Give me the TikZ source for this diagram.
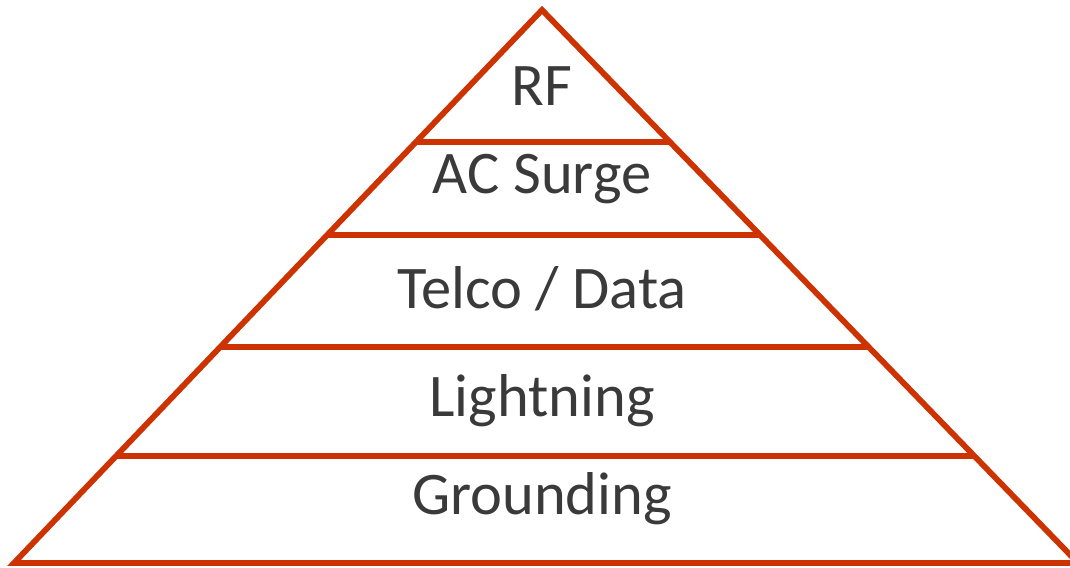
\documentclass[tikz,border=0pt]{standalone}
\usepackage{fontspec}
\setmainfont{Carlito}
\usepackage{tikz}
\usetikzlibrary{calc}
\definecolor{pyrred}{HTML}{CC3300}
\definecolor{pyrtext}{HTML}{3A3A3A}
\tikzset{tier/.style={text=pyrtext,font=\fontsize{17.2}{20}\selectfont}}
\begin{document}
\begin{tikzpicture}[x=0.01cm,y=-0.01cm]
\useasboundingbox (0,0) rectangle (1070,568);
\coordinate (apex) at (542,10);
\coordinate (baseL) at (14,563);
\coordinate (baseR) at (1078,563);
\node[tier] (RF) at (542,86) {RF};
\node[tier] (AC) at (542,179) {AC Surge};
\node[tier] (TD) at (542,289) {Telco / Data};
\node[tier] (LI) at (542,401) {Lightning};
\node[tier] (GR) at (542,499) {Grounding};
\draw[pyrred,line width=1.65pt] (baseL) -- (apex) -- (baseR) -- cycle;
\foreach \t in {0.239,0.407,0.609,0.807}
  \draw[pyrred,line width=1.65pt] ($(apex)!\t!(baseL)$) -- ($(apex)!\t!(baseR)$);
\end{tikzpicture}
\end{document}
